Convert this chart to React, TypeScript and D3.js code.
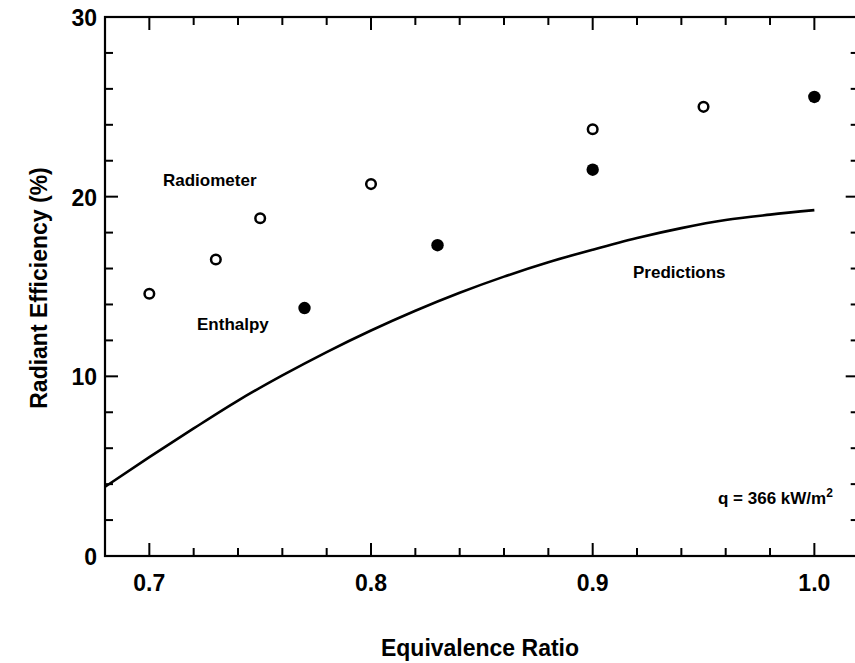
import React from "react";
import * as d3 from "d3";

// Equivalence ratio / radiant efficiency measurements
const radiometerPhi = [0.7, 0.73, 0.75, 0.8, 0.9, 0.95];
const radiometerEff = [14.6, 16.5, 18.8, 20.7, 23.75, 25.0];

const enthalpyPhi = [0.77, 0.83, 0.9, 1.0];
const enthalpyEff = [13.8, 17.3, 21.5, 25.55];

// Model predictions
const predictionPhi = [0.68, 0.7, 0.72, 0.74, 0.76, 0.78, 0.8, 0.82, 0.84, 0.86, 0.88, 0.9, 0.92, 0.94, 0.96, 0.98, 1.0];
const predictionEff = [3.85, 5.5, 7.1, 8.65, 10.05, 11.35, 12.55, 13.65, 14.65, 15.55, 16.35, 17.05, 17.7, 18.25, 18.7, 19.0, 19.25];

// Axes
const xMajorTicks = [0.7, 0.8, 0.9, 1.0];
const xTickLabels = ["0.7", "0.8", "0.9", "1.0"];
const xMinorStep = 0.02;
const yMajorTicks = [0, 10, 20, 30];
const yTickLabels = ["0", "10", "20", "30"];
const yMinorStep = 2;

const W = 855;
const H = 663;
const FONT = "'Liberation Sans', Arial, sans-serif";

export default function App() {
  const x = d3.scaleLinear().domain([0.68, 1.02]).range([105, 858.7]);
  const y = d3.scaleLinear().domain([0, 30]).range([556, 17]);

  const [x0, x1] = x.range();
  const [y0, y1] = y.range();

  const xMinor = d3.range(0.7, 1.02 + 1e-9, xMinorStep).map((v) => +v.toFixed(2));
  const yMinor = d3.range(0, 30 + 1e-9, yMinorStep);
  const isXMajor = (v: number) => xMajorTicks.some((m) => Math.abs(m - v) < 1e-6);
  const isYMajor = (v: number) => yMajorTicks.some((m) => Math.abs(m - v) < 1e-6);

  const line = d3
    .line<number>()
    .x((_, i) => x(predictionPhi[i]))
    .y((d) => y(d))
    .curve(d3.curveMonotoneX);

  const majorLen = 13;
  const minorLen = 8;

  return (
    <svg
      width={W}
      height={H}
      style={{ position: "absolute", left: 0, top: 0, background: "#fff" }}
      fontFamily={FONT}
    >
      <rect x={0} y={0} width={W} height={H} fill="#fff" />

      {/* frame */}
      <rect x={x0} y={y1} width={x1 - x0} height={y0 - y1} fill="none" stroke="#000" strokeWidth={2.2} />

      {/* x ticks, bottom and top */}
      {xMinor.map((v) => {
        const len = isXMajor(v) ? majorLen : minorLen;
        const px = x(v);
        return (
          <g key={"xt" + v} stroke="#000" strokeWidth={2}>
            <line x1={px} x2={px} y1={y0} y2={y0 - len} />
            <line x1={px} x2={px} y1={y1} y2={y1 + len} />
          </g>
        );
      })}

      {/* y ticks, left and right */}
      {yMinor.map((v) => {
        const len = isYMajor(v) ? majorLen : minorLen;
        const py = y(v);
        return (
          <g key={"yt" + v} stroke="#000" strokeWidth={2}>
            <line x1={x0} x2={x0 + len} y1={py} y2={py} />
            <line x1={x1} x2={x1 - len} y1={py} y2={py} />
          </g>
        );
      })}

      {/* tick labels */}
      {xMajorTicks.map((v, i) => (
        <text key={"xl" + v} x={x(v)} y={591} textAnchor="middle" fontSize={23} fontWeight="bold">
          {xTickLabels[i]}
        </text>
      ))}
      {yMajorTicks.map((v, i) => (
        <text key={"yl" + v} x={97} y={y(v) + 9} textAnchor="end" fontSize={23} fontWeight="bold">
          {yTickLabels[i]}
        </text>
      ))}

      {/* axis titles */}
      <text x={480} y={656} textAnchor="middle" fontSize={23} fontWeight="bold">
        Equivalence Ratio
      </text>
      <text
        transform={`translate(47,288) rotate(-90)`}
        textAnchor="middle"
        fontSize={23}
        fontWeight="bold"
      >
        Radiant Efficiency (%)
      </text>

      {/* prediction curve */}
      <path d={line(predictionEff) || ""} fill="none" stroke="#000" strokeWidth={2.6} />

      {/* radiometer (open) */}
      {radiometerPhi.map((p, i) => (
        <circle key={"r" + i} cx={x(p)} cy={y(radiometerEff[i])} r={4.8} fill="#fff" stroke="#000" strokeWidth={2.5} />
      ))}

      {/* enthalpy (filled) */}
      {enthalpyPhi.map((p, i) => (
        <circle key={"e" + i} cx={x(p)} cy={y(enthalpyEff[i])} r={6.2} fill="#000" />
      ))}

      {/* annotations */}
      <text x={163} y={186} fontSize={17} fontWeight="bold">Radiometer</text>
      <text x={197} y={330} fontSize={17} fontWeight="bold">Enthalpy</text>
      <text x={633} y={278} fontSize={17} fontWeight="bold">Predictions</text>
      <text x={718} y={504} fontSize={17} fontWeight="bold">
        q = 366 kW/m
        <tspan fontSize={12} dy={-7}>2</tspan>
      </text>
    </svg>
  );
}
